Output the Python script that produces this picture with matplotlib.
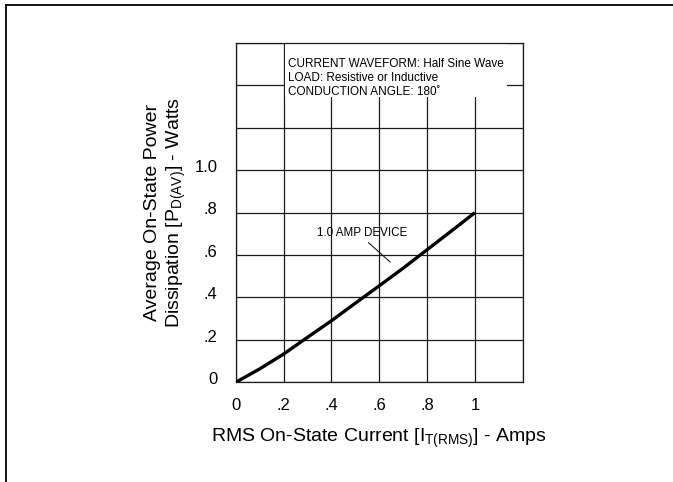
import numpy as np
import matplotlib
matplotlib.use("Agg")
import matplotlib.pyplot as plt
import matplotlib.transforms as mtransforms
from matplotlib.lines import Line2D

plt.rcParams['font.family'] = ['Liberation Sans', 'DejaVu Sans']
plt.rcParams['mathtext.fontset'] = 'custom'
plt.rcParams['mathtext.rm'] = 'Liberation Sans'
plt.rcParams['mathtext.it'] = 'Liberation Sans'
plt.rcParams['mathtext.default'] = 'regular'

# RMS on-state current (A) vs average on-state power dissipation (W)
current = [0, 0.1, 0.2, 0.3, 0.4, 0.5, 0.6, 0.7, 0.8, 0.9, 1.0]
power = [0, 0.063, 0.133, 0.212, 0.29, 0.373, 0.455, 0.538, 0.625, 0.712, 0.80]

x_ticks = [0, 0.2, 0.4, 0.6, 0.8, 1.0, 1.2]
x_labels = ['0', '.2', '.4', '.6', '.8', '1', '']
y_ticks = [0, 0.2, 0.4, 0.6, 0.8, 1.0, 1.2, 1.4, 1.6]
y_labels = ['0', '.2', '.4', '.6', '.8', '1.0', '', '', '']

fig = plt.figure(figsize=(6.73, 4.82), dpi=100)
ax = fig.add_axes([0.3502, 0.2068, 0.4265, 0.7040])

ax.set_xlim(0, 1.2)
ax.set_ylim(0, 1.6)
ax.set_xticks(x_ticks)
ax.set_xticklabels(x_labels, fontsize=12)
ax.set_yticks(y_ticks)
ax.set_yticklabels(y_labels, fontsize=12)
ax.tick_params(length=0, pad=13)
ax.tick_params(axis='x', pad=11)
# y tick labels sit a little above their grid lines
lift = mtransforms.ScaledTranslation(0, 3 / 72, fig.dpi_scale_trans)
for lab in ax.get_yticklabels():
    lab.set_transform(lab.get_transform() + lift)

ax.grid(True, color='#1a1a1a', linewidth=0.9)
ax.set_axisbelow(True)
for s in ax.spines.values():
    s.set_linewidth(0.9)
    s.set_color('#1a1a1a')

ax.plot(current, power, color='black', linewidth=2.4, solid_capstyle='butt', zorder=3)

# note box hides the grid behind it
ax.add_patch(plt.Rectangle((0.205, 1.345), 0.93, 0.25, facecolor='white',
                           edgecolor='none', zorder=2))
ax.text(0.218, 1.528, 'CURRENT WAVEFORM: Half Sine Wave\n'
        'LOAD: Resistive or Inductive\n'
        'CONDUCTION ANGLE: 180\u02da',
        fontsize=8.5, va='top', ha='left', linespacing=1.22, zorder=4)

ax.text(0.528, 0.705, '1.0 AMP DEVICE', fontsize=8.4, ha='center', va='center', zorder=4)
ax.plot([0.555, 0.646], [0.659, 0.567], color='black', linewidth=0.7, zorder=4)

ax.set_xlabel('RMS On-State Current [I$_{T(RMS)}$] - Amps', fontsize=14, labelpad=10)
fig.text(166 / 673, 1 - 212 / 482,
         'Average On-State Power\nDissipation [P$_{D(AV)}$] - Watts',
         fontsize=14, rotation=90, ha='center', va='center',
         multialignment='center', linespacing=1.3)

# page frame (top and left edges)
fig.add_artist(Line2D([0.0085, 1.0], [0.989, 0.989], color='black', linewidth=1.3))
fig.add_artist(Line2D([0.0090, 0.0090], [0.0, 0.989], color='black', linewidth=1.3))

fig.savefig('out.png', dpi=100)
